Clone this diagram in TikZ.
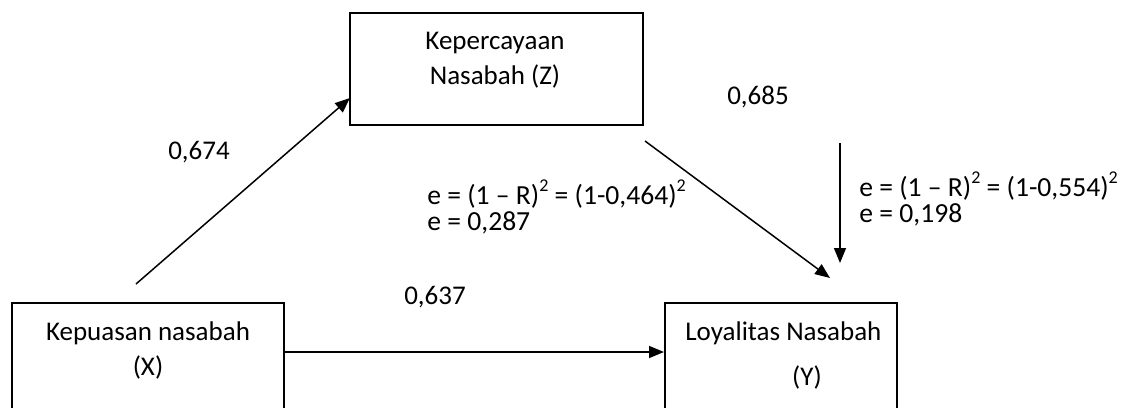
\documentclass[tikz,border=0pt]{standalone}
\usepackage{fontspec}
\setmainfont{Carlito}
\usetikzlibrary{arrows.meta}
\newcommand{\sqr}{\raisebox{0.5em}{\fontsize{9pt}{9pt}\selectfont 2}}
\begin{document}
\begin{tikzpicture}[x=0.5pt,y=-0.5pt,
  box/.style={draw,line width=1pt,rectangle,inner sep=0pt},
  maintxt/.style={font=\fontsize{13.5pt}{17.5pt}\selectfont,align=center,inner sep=0pt},
  formula/.style={font=\fontsize{13.8pt}{13pt}\selectfont,align=left,anchor=west,inner sep=0pt},
  conn/.style={line width=0.75pt,-{Triangle[length=7.5pt,width=6pt]}}]
\useasboundingbox (0,0) rectangle (1124,407);
\clip (0,0) rectangle (1124,407);
% boxes
\node[box,minimum width=146.5pt,minimum height=56pt] (Z) at (496.5,69) {};
\node[box,minimum width=136pt,minimum height=75pt] (X) at (148,378) {};
\node[box,minimum width=116pt,minimum height=75pt] (Y) at (781,378) {};
% box texts
\node[maintxt] (zt) at (495,60) {Kepercayaan\\Nasabah (Z)};
\node[maintxt] (xt) at (148,350) {Kepuasan nasabah\\(X)};
\node[maintxt,anchor=west] (yt1) at (685,333) {Loyalitas Nasabah};
\node[maintxt] (yt2) at (807,377) {(Y)};
% coefficient labels
\node[maintxt] (l1) at (199,152) {0,674};
\node[maintxt] (l2) at (758,97) {0,685};
\node[maintxt] (l3) at (435,297) {0,637};
% error formulas
\node[formula] (f1) at (427,207) {e = (1 – R)\sqr{} = (1-0,464)\sqr\\e = 0,287};
\node[formula] (f2) at (859,199) {e = (1 – R)\sqr{} = (1-0,554)\sqr\\e = 0,198};
% connector end points
\coordinate (xs) at (136,284);
\coordinate (zin) at (350,98);
\coordinate (zs) at (645,141);
\coordinate (yin) at (830,278);
\coordinate (es) at (840,143);
\coordinate (ee) at (840,263);
% connectors
\draw[conn] (xs) -- (zin);
\draw[conn] (zs) -- (yin);
\draw[conn] (es) -- (ee);
\draw[conn] (X.east |- 0,352) -- (Y.west |- 0,352);
\end{tikzpicture}
\end{document}
